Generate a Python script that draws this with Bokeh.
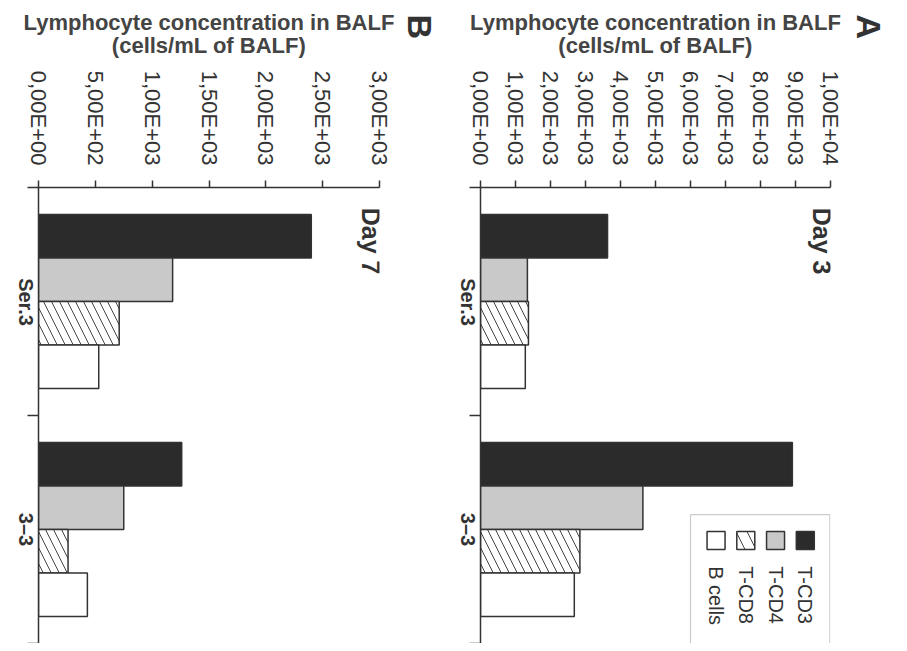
import math
from bokeh.plotting import figure
from bokeh.models import FixedTicker, Range1d, Title, BoxAnnotation
from bokeh.layouts import row
from bokeh.embed import file_html
from bokeh.resources import INLINE
from bokeh.core.properties import value

# ---------------- data ----------------
categories = ["Ser.3", "3\u20133"]
series = ["T-CD3", "T-CD4", "T-CD8", "B cells"]

# Panel A: Day 3
day3_tcd3 = [3630, 8910]
day3_tcd4 = [1340, 4640]
day3_tcd8 = [1370, 2840]
day3_bcells = [1280, 2680]

# Panel B: Day 7
day7_tcd3 = [2400, 1260]
day7_tcd4 = [1180, 750]
day7_tcd8 = [710, 260]
day7_bcells = [530, 430]

ticks_a = [0, 1000, 2000, 3000, 4000, 5000, 6000, 7000, 8000, 9000, 10000]
labels_a = ["0,00E+00", "1,00E+03", "2,00E+03", "3,00E+03", "4,00E+03", "5,00E+03",
            "6,00E+03", "7,00E+03", "8,00E+03", "9,00E+03", "1,00E+04"]
ticks_b = [0, 500, 1000, 1500, 2000, 2500, 3000]
labels_b = ["0,00E+00", "5,00E+02", "1,00E+03", "1,50E+03", "2,00E+03", "2,50E+03", "3,00E+03"]

axis_title = "Lymphocyte concentration in BALF\n(cells/mL of BALF)"

# ---------------- styles ----------------
FONT = "Liberation Sans"
INK = "#333333"
FILLS = {"T-CD3": "#2b2b2b", "T-CD4": "#c9c9c9", "T-CD8": "#ffffff", "B cells": "#ffffff"}
HATCH = {"T-CD8": "\\"}
BAR_H = 0.191
ROT = -math.pi / 2
HEIGHT = 643
TOP = 187
CAT_FONT = 20
# approximate bold glyph advance widths (em) to centre rotated category labels
BOLD_EM = {"S": 0.667, "e": 0.556, "r": 0.389, ".": 0.278, "3": 0.556, "\u2013": 0.556}


def text_len_px(s, size):
    return sum(BOLD_EM.get(ch, 0.6) for ch in s) * size


def make_panel(vals, xmax, ticks, labels, day_text, letter, width, bl, br, gap, legend=False):
    p = figure(width=width, height=HEIGHT, output_backend="svg", toolbar_location=None,
               x_axis_location="above", x_range=Range1d(0, xmax),
               y_range=Range1d(len(categories), 0),
               min_border_left=bl, min_border_right=br, min_border_top=TOP, min_border_bottom=0)
    p.outline_line_color = None
    p.xgrid.visible = False
    p.ygrid.visible = False
    p.background_fill_color = "white"
    p.border_fill_color = "white"

    for j, s in enumerate(series):
        ys = [i + 0.5 + (j - 1.5) * BAR_H for i in range(len(categories))]
        kw = {}
        if s in HATCH:
            kw = dict(hatch_pattern=HATCH[s], hatch_color="#444444", hatch_scale=16, hatch_weight=1)
        p.hbar(y=ys, left=0, right=vals[s], height=BAR_H, fill_color=FILLS[s],
               line_color=INK, line_width=1.5, **kw)

    xa = p.xaxis[0]
    xa.ticker = FixedTicker(ticks=ticks)
    xa.major_label_overrides = dict(zip(ticks, labels))
    xa.major_label_orientation = ROT
    xa.major_label_text_font = FONT
    xa.major_label_text_font_size = "22px"
    xa.major_label_text_color = INK
    xa.major_label_standoff = 15
    xa.major_tick_out = 7
    xa.major_tick_in = 0
    xa.major_tick_line_color = INK
    xa.major_tick_line_width = 1.5
    xa.axis_line_color = INK
    xa.axis_line_width = 1.5
    xa.axis_label = axis_title
    xa.axis_label_text_font = FONT
    xa.axis_label_text_font_style = "bold"
    xa.axis_label_text_font_size = "22px"
    xa.axis_label_text_line_height = 0.9
    xa.axis_label_text_color = "#444444"
    xa.axis_label_standoff = 10

    ya = p.yaxis[0]
    unit_px = (HEIGHT - TOP) / len(categories)
    pos = [i + 0.5 + text_len_px(c, CAT_FONT) / 2 / unit_px for i, c in enumerate(categories)]
    ya.ticker = FixedTicker(ticks=pos, minor_ticks=list(range(len(categories) + 1)))
    ya.major_label_overrides = dict(zip(pos, categories))
    ya.major_label_orientation = ROT
    ya.major_label_text_font = FONT
    ya.major_label_text_font_style = "bold"
    ya.major_label_text_font_size = f"{CAT_FONT}px"
    ya.major_label_text_color = INK
    ya.major_label_standoff = 2
    ya.major_tick_out = 0
    ya.major_tick_in = 0
    ya.minor_tick_out = 11
    ya.minor_tick_in = 0
    ya.minor_tick_line_color = INK
    ya.minor_tick_line_width = 1.5
    ya.axis_line_color = INK
    ya.axis_line_width = 1.5

    p.text(x=[0.975 * xmax], y=[0.235], text=[day_text], angle=ROT,
           text_font=value(FONT), text_font_style="bold", text_font_size="25px",
           text_color=INK, text_align="center", text_baseline="middle")

    # empty spacer panel, then the panel letter (a title on the right side reads top-down)
    p.add_layout(Title(text=" ", text_font_size="1px", standoff=gap), "right")
    p.add_layout(Title(text=letter, align="left", vertical_align="top", offset=-173, standoff=0,
                       text_font=FONT, text_font_style="bold", text_font_size="34px",
                       text_color=INK), "right")

    if legend:
        order = list(reversed(series))
        xs = [xmax * (0.673 + 0.085 * k) for k in range(len(order))]
        for k, s in enumerate(order):
            kw = {}
            if s in HATCH:
                kw = dict(hatch_pattern=HATCH[s], hatch_color="#444444", hatch_scale=22, hatch_weight=1)
            p.rect(x=[xs[k]], y=[1.548], width=18, height=18, width_units="screen",
                   height_units="screen", fill_color=FILLS[s], line_color=INK, line_width=1.5, **kw)
        p.text(x=xs, y=[1.661] * len(order), text=order, angle=ROT,
               text_font=value(FONT), text_font_size="20px", text_color=INK,
               text_align="left", text_baseline="middle")
        p.add_layout(BoxAnnotation(left=0.6 * xmax, right=0.998 * xmax, top=1.435, bottom=2.2,
                                   fill_color=None, line_color="#555555", line_width=1.2))
    return p


vals_b = {"T-CD3": day7_tcd3, "T-CD4": day7_tcd4, "T-CD8": day7_tcd8, "B cells": day7_bcells}
vals_a = {"T-CD3": day3_tcd3, "T-CD4": day3_tcd4, "T-CD8": day3_tcd8, "B cells": day3_bcells}

pb = make_panel(vals_b, 3000, ticks_b, labels_b, "Day 7", "B", 442, 25, 63, 16)
pa = make_panel(vals_a, 10000, ticks_a, labels_a, "Day 3", "A", 449, 33, 61, 14, legend=True)

layout = row(pb, pa, spacing=0)
open("out.html", "w").write(file_html(layout, INLINE))
